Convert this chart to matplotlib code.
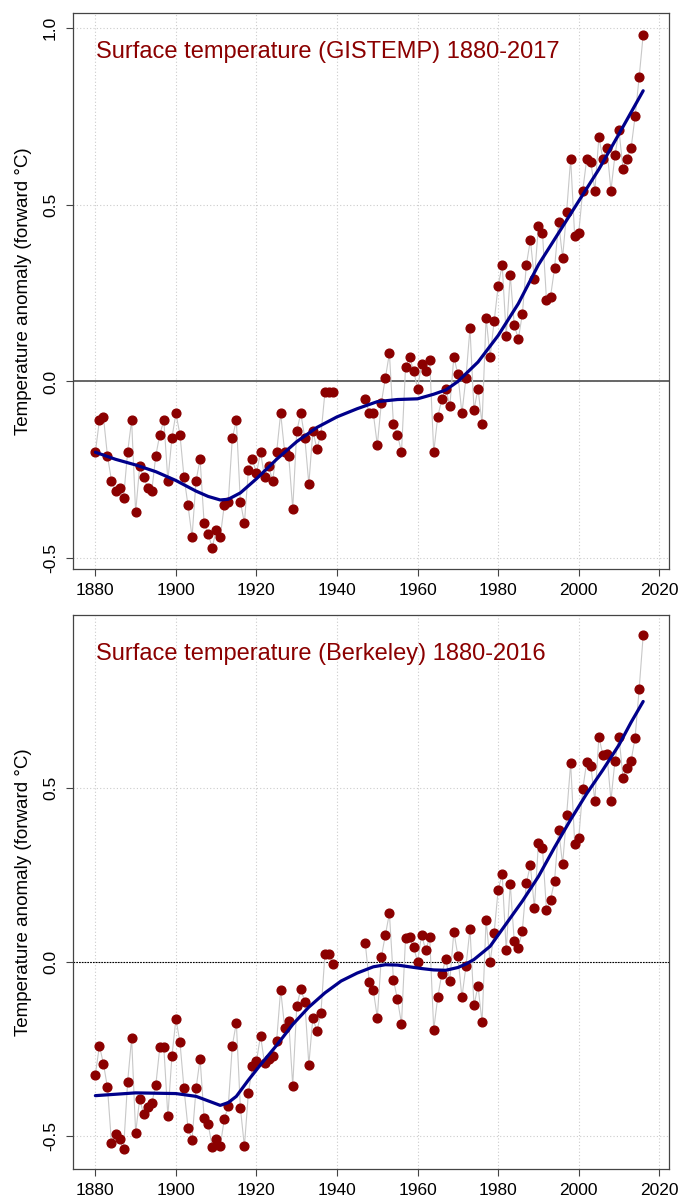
import numpy as np
import matplotlib
matplotlib.use("Agg")
import matplotlib.pyplot as plt

plt.rcParams['font.family'] = ['Liberation Sans', 'DejaVu Sans']

# ---- data ----
years = list(range(1880, 2017))
nan = float('nan')

gistemp = [
    -0.20, -0.11, -0.10, -0.21, -0.28, -0.31, -0.30, -0.33, -0.20, -0.11,   # 1880s
    -0.37, -0.24, -0.27, -0.30, -0.31, -0.21, -0.15, -0.11, -0.28, -0.16,   # 1890s
    -0.09, -0.15, -0.27, -0.35, -0.44, -0.28, -0.22, -0.40, -0.43, -0.47,   # 1900s
    -0.42, -0.44, -0.35, -0.34, -0.16, -0.11, -0.34, -0.40, -0.25, -0.22,   # 1910s
    -0.26, -0.20, -0.27, -0.24, -0.28, -0.20, -0.09, -0.20, -0.21, -0.36,   # 1920s
    -0.14, -0.09, -0.16, -0.29, -0.14, -0.19, -0.15, -0.03, -0.03, -0.03,   # 1930s
    nan, nan, nan, nan, nan, nan, nan, -0.05, -0.09, -0.09,                 # 1940s
    -0.18, -0.06, 0.01, 0.08, -0.12, -0.15, -0.20, 0.04, 0.07, 0.03,        # 1950s
    -0.02, 0.05, 0.03, 0.06, -0.20, -0.10, -0.05, -0.02, -0.07, 0.07,       # 1960s
    0.02, -0.09, 0.01, 0.15, -0.08, -0.02, -0.12, 0.18, 0.07, 0.17,         # 1970s
    0.27, 0.33, 0.13, 0.30, 0.16, 0.12, 0.19, 0.33, 0.40, 0.29,             # 1980s
    0.44, 0.42, 0.23, 0.24, 0.32, 0.45, 0.35, 0.48, 0.63, 0.41,             # 1990s
    0.42, 0.54, 0.63, 0.62, 0.54, 0.69, 0.63, 0.66, 0.54, 0.64,             # 2000s
    0.71, 0.60, 0.63, 0.66, 0.75, 0.86, 0.98,                               # 2010s
]

berkeley = [
    -0.325, -0.241, -0.293, -0.361, -0.520, -0.496, -0.511, -0.539, -0.347, -0.219,
    -0.492, -0.395, -0.439, -0.419, -0.406, -0.355, -0.246, -0.246, -0.444, -0.272,
    -0.164, -0.231, -0.364, -0.478, -0.512, -0.364, -0.279, -0.449, -0.467, -0.532,
    -0.511, -0.530, -0.453, -0.415, -0.241, -0.175, -0.420, -0.531, -0.376, -0.301,
    -0.286, -0.212, -0.291, -0.279, -0.272, -0.227, -0.080, -0.189, -0.171, -0.356,
    -0.128, -0.078, -0.114, -0.296, -0.160, -0.200, -0.146, 0.023, 0.023, -0.006,
    nan, nan, nan, nan, nan, nan, nan, 0.054, -0.057, -0.082,
    -0.160, 0.014, 0.078, 0.140, -0.051, -0.108, -0.178, 0.068, 0.071, 0.042,
    0.001, 0.079, 0.033, 0.071, -0.195, -0.102, -0.034, 0.008, -0.054, 0.087,
    0.018, -0.102, -0.013, 0.095, -0.125, -0.069, -0.174, 0.120, 0.000, 0.084,
    0.208, 0.253, 0.033, 0.225, 0.059, 0.041, 0.090, 0.228, 0.278, 0.156,
    0.343, 0.327, 0.149, 0.179, 0.234, 0.381, 0.281, 0.423, 0.573, 0.341,
    0.356, 0.497, 0.577, 0.565, 0.464, 0.648, 0.596, 0.599, 0.464, 0.580,
    0.648, 0.530, 0.558, 0.579, 0.646, 0.785, 0.940,
]

# smoothed trend
gis_smooth_years = [1880, 1885, 1890, 1895, 1900, 1905, 1908, 1911, 1913, 1916, 1920,
                    1925, 1930, 1935, 1940, 1945, 1950, 1955, 1960, 1964, 1967,
                    1970, 1975, 1980, 1985, 1990, 1995, 2000, 2005, 2010, 2016]
gis_smooth = [-0.20, -0.22, -0.236, -0.255, -0.28, -0.31, -0.325, -0.335, -0.333, -0.315,
              -0.275, -0.22, -0.17, -0.13, -0.10, -0.077, -0.057, -0.051, -0.049, -0.036,
              -0.024, 0.0, 0.055, 0.13, 0.22, 0.33, 0.42, 0.51, 0.60, 0.70, 0.822]

brk_smooth_years = [1880, 1890, 1900, 1905, 1908, 1911, 1913, 1915, 1918, 1921, 1925,
                    1929, 1933, 1937, 1941, 1945, 1949, 1952, 1955, 1958, 1961, 1964,
                    1967, 1970, 1972, 1974, 1978, 1982, 1986, 1990, 1994, 1998, 2002,
                    2006, 2010, 2013, 2016]
brk_smooth = [-0.385, -0.377, -0.379, -0.387, -0.40, -0.413, -0.405, -0.387, -0.34, -0.296,
              -0.24, -0.18, -0.13, -0.089, -0.055, -0.032, -0.014, -0.008, -0.009, -0.014,
              -0.019, -0.023, -0.024, -0.016, -0.006, 0.007, 0.045, 0.11, 0.175, 0.246,
              0.33, 0.41, 0.485, 0.553, 0.625, 0.69, 0.75]

titles = ['Surface temperature (GISTEMP) 1880-2017',
          'Surface temperature (Berkeley) 1880-2016']
ylabel = 'Temperature anomaly (forward \u00b0C)'
x_ticks = [1880, 1900, 1920, 1940, 1960, 1980, 2000, 2020]

point_col = '#8B0000'
trend_col = '#00008B'
spine_col = '#444444'

fig = plt.figure(figsize=(7, 12), dpi=100)
ax_top = fig.add_axes([0.1047, 0.5256, 0.8514, 0.4633])
ax_bot = fig.add_axes([0.1047, 0.0256, 0.8514, 0.4619])

panels = [
    (ax_top, gistemp, gis_smooth_years, gis_smooth, titles[0], (-0.531, 1.041), [-0.5, 0.0, 0.5, 1.0]),
    (ax_bot, berkeley, brk_smooth_years, brk_smooth, titles[1], (-0.597, 0.999), [-0.5, 0.0, 0.5]),
]

for i, (ax, vals, sy, sv, title, ylim, yticks) in enumerate(panels):
    ax.set_xlim(1874.52, 2022.48)
    ax.set_ylim(*ylim)
    ax.set_xticks(x_ticks)
    ax.set_yticks(yticks)
    ax.set_yticklabels([f'{v:.1f}' for v in yticks], rotation=90, va='center')
    ax.grid(True, linestyle=(0, (1, 2)), color='#cccccc', linewidth=0.8)
    ax.set_axisbelow(True)

    # zero line
    if i == 0:
        ax.axhline(0, color='#666666', linewidth=1.4, zorder=1)
    else:
        ax.axhline(0, color='black', linestyle=(0, (1.5, 1)), linewidth=0.8, zorder=1)

    ax.plot(years, vals, color='#c8c8c8', linewidth=0.8, zorder=2)
    ax.plot(years, vals, linestyle='none', marker='o', markersize=6.3,
            markerfacecolor=point_col, markeredgecolor=point_col, zorder=3)
    ax.plot(sy, sv, color=trend_col, linewidth=2.3, solid_capstyle='round', zorder=4)

    ax.text(0.038, 0.93, title, transform=ax.transAxes, color=point_col,
            fontsize=17, ha='left', va='center')
    ax.set_ylabel(ylabel, fontsize=13.5, labelpad=8)

    ax.tick_params(axis='both', labelsize=12.5, length=5, width=0.8, color=spine_col)
    ax.tick_params(axis='x', pad=5)
    ax.tick_params(axis='y', pad=6)
    for s in ax.spines.values():
        s.set_color(spine_col)
        s.set_linewidth(0.9)

fig.savefig('out.png', dpi=100)
